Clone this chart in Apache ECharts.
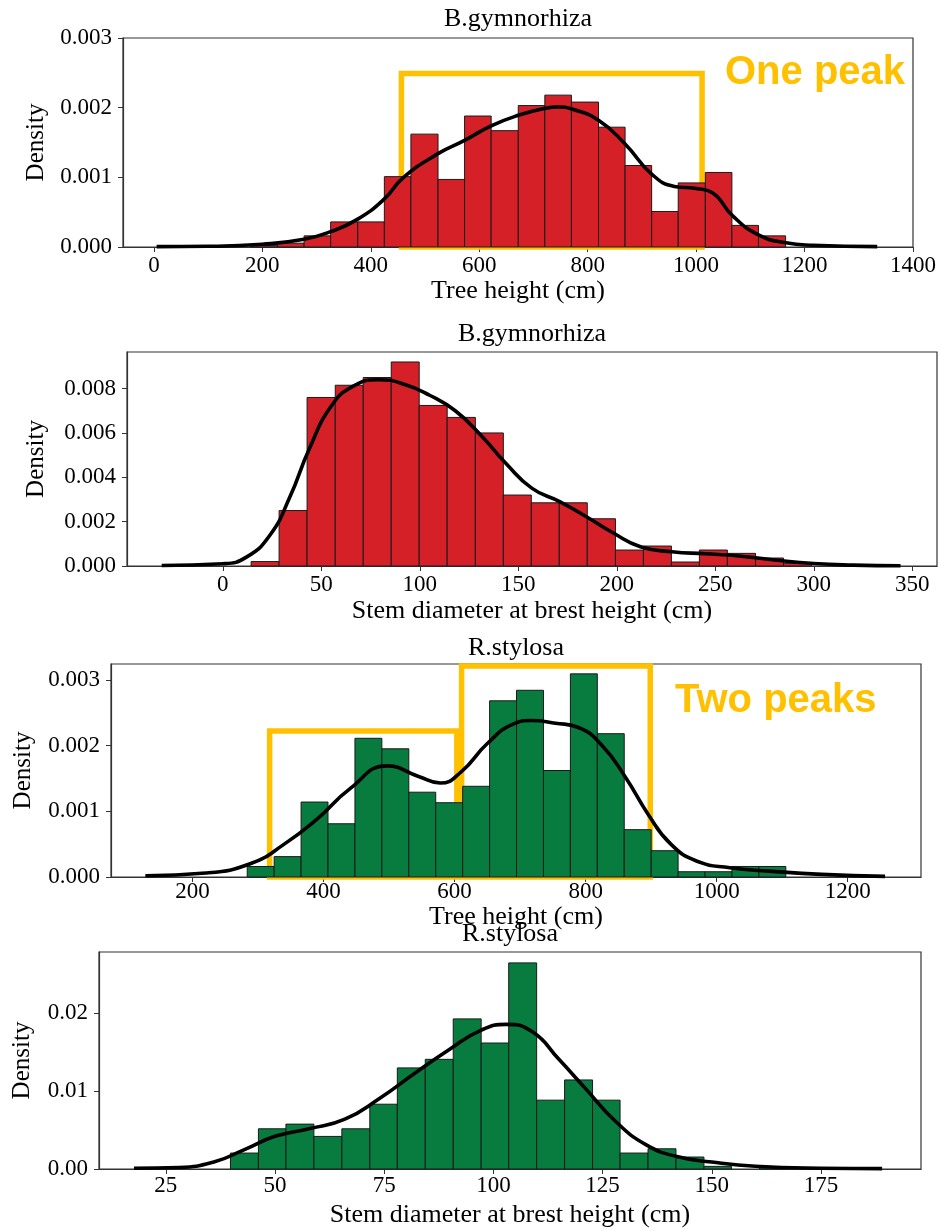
<!DOCTYPE html>
<html>
<head>
<meta charset="utf-8">
<script src="https://cdn.jsdelivr.net/npm/echarts@6/dist/echarts.min.js"></script>
<style>html,body{margin:0;padding:0;background:#fff}#c{width:940px;height:1231px}</style>
</head>
<body>
<div id="c"></div>
<script>
// ---------- DATA ----------
const titles = ['B.gymnorhiza', 'B.gymnorhiza', 'R.stylosa', 'R.stylosa'];
const xNames = ['Tree height (cm)', 'Stem diameter at brest height (cm)', 'Tree height (cm)', 'Stem diameter at brest height (cm)'];

// Panel 1: B.gymnorhiza tree height
const edges1 = [179, 228, 277, 326, 376, 425, 474, 524, 573, 622, 672, 721, 770, 820, 869, 918, 967, 1017, 1066, 1115, 1165];
const dens1 = [0.00002, 0.000055, 0.00016, 0.00036, 0.00036, 0.00101, 0.00162, 0.00097, 0.00188, 0.00167, 0.00203, 0.00218, 0.00208, 0.00172, 0.00117, 0.00051, 0.00092, 0.00107, 0.00031, 0.00016];
const kdeX1 = [5, 100, 200, 277, 326, 376, 425, 459, 524, 573, 622, 672, 721, 746, 771, 820, 869, 919, 960, 1000, 1030, 1067, 1116, 1166, 1215, 1334];
const kdeY1 = [0.000005, 0.00001, 0.00004, 0.00011, 0.00022, 0.00040, 0.00069, 0.00099, 0.00134, 0.00153, 0.00174, 0.00189, 0.00199, 0.00201, 0.00198, 0.00182, 0.00148, 0.00104, 0.00087, 0.00084, 0.00078, 0.00045, 0.00017, 0.00006, 0.000025, 0.000005];
const xTicks1 = [0, 200, 400, 600, 800, 1000, 1200, 1400];
const yTicks1 = [0, 0.001, 0.002, 0.003];

// Panel 2: B.gymnorhiza stem diameter
const edges2 = [14.4, 28.6, 42.8, 57.1, 71.3, 85.5, 99.7, 113.9, 128.2, 142.4, 156.6, 170.8, 185.0, 199.3, 213.5, 227.7, 241.9, 256.1, 270.4, 284.6, 298.8];
const dens2 = [0.0002, 0.0025, 0.0076, 0.00815, 0.0085, 0.0092, 0.00724, 0.0067, 0.0060, 0.0032, 0.00285, 0.00285, 0.00213, 0.00072, 0.0009, 0.00018, 0.00072, 0.00057, 0.00036, 0.00012];
const kdeX2 = [-31, 0, 12, 24, 34, 44, 55, 66, 79, 92, 105, 118, 131, 144, 157, 171, 185, 198, 212, 228, 245, 262, 280, 300, 320, 344];
const kdeY2 = [0.00002, 0.0001, 0.0004, 0.0014, 0.0031, 0.0053, 0.0072, 0.0081, 0.0084, 0.0082, 0.0077, 0.0070, 0.0059, 0.0046, 0.0035, 0.0029, 0.0022, 0.0015, 0.00087, 0.00064, 0.00055, 0.00045, 0.00027, 0.00011, 0.00004, 0.00001];
const xTicks2 = [0, 50, 100, 150, 200, 250, 300, 350];
const yTicks2 = [0, 0.002, 0.004, 0.006, 0.008];

// Panel 3: R.stylosa tree height
const edges3 = [283.5, 324.6, 365.7, 406.8, 447.9, 489.0, 530.1, 571.2, 612.3, 653.4, 694.5, 735.6, 776.7, 817.8, 858.9, 900.0, 941.1, 982.2, 1023.3, 1064.4, 1105.5];
const dens3 = [0.00016, 0.00031, 0.00114, 0.00081, 0.00211, 0.00195, 0.00129, 0.00113, 0.00138, 0.00268, 0.00284, 0.00162, 0.00309, 0.00218, 0.00072, 0.00040, 0.00008, 0.00008, 0.00016, 0.00016];
const kdeX3 = [128, 220, 290, 340, 390, 440, 497, 545, 578, 610, 650, 690, 717, 754, 790, 825, 860, 895, 930, 970, 1020, 1080, 1160, 1257];
const kdeY3 = [0.00002, 0.00006, 0.00021, 0.00050, 0.00088, 0.00134, 0.00169, 0.00153, 0.00143, 0.00160, 0.00203, 0.00233, 0.00238, 0.00234, 0.00227, 0.00200, 0.00153, 0.00096, 0.00050, 0.00024, 0.00014, 0.00009, 0.00004, 0.00001];
const xTicks3 = [200, 400, 600, 800, 1000, 1200];
const yTicks3 = [0, 0.001, 0.002, 0.003];

// Panel 4: R.stylosa stem diameter
const edges4 = [39.8, 46.2, 52.5, 58.9, 65.3, 71.7, 78.0, 84.4, 90.8, 97.2, 103.5, 109.9, 116.3, 122.7, 129.0, 135.4, 141.8, 148.2, 154.5, 160.9, 167.3];
const dens4 = [0.00205, 0.00517, 0.00577, 0.00419, 0.00517, 0.00833, 0.0130, 0.0141, 0.0193, 0.0162, 0.0265, 0.00885, 0.01145, 0.00885, 0.00205, 0.0026, 0.00154, 0.00034, 0, 0.0003];
const kdeX4 = [17.7, 28, 36, 43, 50, 58, 66, 74, 82, 90, 97, 103, 109, 115, 121, 128, 135, 142, 150, 160, 175, 189];
const kdeY4 = [0.0001, 0.0002, 0.0009, 0.0025, 0.0042, 0.0052, 0.0064, 0.0091, 0.0123, 0.0154, 0.0178, 0.0186, 0.0176, 0.0141, 0.0104, 0.0061, 0.0031, 0.0016, 0.0009, 0.00035, 0.0001, 0.00005];
const xTicks4 = [25, 50, 75, 100, 125, 150, 175];
const yTicks4 = [0, 0.01, 0.02];

// annotation boxes (data coordinates): [x1, y1, x2, y2]
const box1 = [456.5, -0.00004, 1011, 0.00249];
const box3a = [317.7, 0, 603.4, 0.00222];
const box3b = [610.7, 0, 898.6, 0.00321];
const notes = ['One peak', 'Two peaks'];

// ---------- LAYOUT / STYLE ----------
const SERIF = '"Liberation Serif", "Times New Roman", serif';
const SANS = '"Liberation Sans", Arial, sans-serif';
const RED = '#D62028';
const GREEN = '#077C3E';
const ORANGE = '#FFC000';
const AX = '#333';

const grids = [
  {left: 123, top: 38, width: 790, height: 209},
  {left: 127, top: 352, width: 810, height: 214},
  {left: 111, top: 664, width: 810, height: 213},
  {left: 99, top: 952, width: 822, height: 217}
];
const xRanges = [[-57, 1400], [-48.6, 362.5], [75.6, 1311.8], [9.7, 197.9]];
const yMax = [0.003, 0.00965, 0.00324, 0.0279];
const xTicks = [xTicks1, xTicks2, xTicks3, xTicks4];
const yTicks = [yTicks1, yTicks2, yTicks3, yTicks4];
const yDec = [3, 3, 3, 2];
const xLabelMargin = [7, 7, 3, 5];
const xNameGap = [30, 32, 20, 33];
const yNameGap = [74, 78, 75, 64];
const titleY = [19.5, 334.2, 647.9, 934.2];

const edges = [edges1, edges2, edges3, edges4];
const dens = [dens1, dens2, dens3, dens4];
const kdeX = [kdeX1, kdeX2, kdeX3, kdeX4];
const kdeY = [kdeY1, kdeY2, kdeY3, kdeY4];
const colors = [RED, RED, GREEN, GREEN];
const boxes = [[box1], [], [box3a, box3b], []];

const chart = echarts.init(document.getElementById('c'), null, {renderer: 'canvas'});

const option = {
  animation: false,
  backgroundColor: '#fff',
  grid: grids.map(g => Object.assign({show: true, borderColor: AX, borderWidth: 1.2, backgroundColor: 'transparent', containLabel: false}, g)),
  xAxis: grids.map((g, i) => ({
    type: 'value', gridIndex: i, min: xRanges[i][0], max: xRanges[i][1],
    name: xNames[i], nameLocation: 'middle', nameGap: xNameGap[i],
    nameTextStyle: {fontFamily: SERIF, fontSize: 26, color: '#000'},
    axisLine: {show: true, onZero: false, lineStyle: {color: AX, width: 1.2}},
    axisTick: {show: true, length: 5, inside: false, customValues: xTicks[i], lineStyle: {color: AX, width: 1}},
    axisLabel: {show: true, customValues: xTicks[i], margin: xLabelMargin[i], fontFamily: SERIF, fontSize: 23, color: '#000',
      formatter: v => String(v), showMinLabel: true, showMaxLabel: true},
    splitLine: {show: false}
  })),
  yAxis: grids.map((g, i) => ({
    type: 'value', gridIndex: i, min: 0, max: yMax[i],
    name: 'Density', nameLocation: 'middle', nameGap: yNameGap[i], nameRotate: 90,
    nameTextStyle: {fontFamily: SERIF, fontSize: 25, color: '#000'},
    axisLine: {show: true, onZero: false, lineStyle: {color: AX, width: 1.2}},
    axisTick: {show: true, length: 5, inside: false, customValues: yTicks[i], lineStyle: {color: AX, width: 1}},
    axisLabel: {show: true, customValues: yTicks[i], margin: 11, fontFamily: SERIF, fontSize: 23, color: '#000',
      formatter: v => Number(v).toFixed(yDec[i]), showMinLabel: true, showMaxLabel: true},
    splitLine: {show: false}
  })),
  series: [],
  graphic: []
};

for (let i = 0; i < 4; i++) {
  const e = edges[i], d = dens[i], col = colors[i];
  const histData = d.map((v, k) => [e[k], e[k + 1], v]);
  option.series.push({
    type: 'custom', xAxisIndex: i, yAxisIndex: i, z: 2,
    data: histData,
    encode: {x: [0, 1], y: 2},
    renderItem: function (params, api) {
      const h = api.value(2);
      if (!(h > 0)) return null;
      const p0 = api.coord([api.value(0), h]);
      const p1 = api.coord([api.value(1), 0]);
      return {
        type: 'rect',
        shape: {x: p0[0], y: p0[1], width: p1[0] - p0[0], height: p1[1] - p0[1]},
        style: {fill: col, stroke: '#1a1a1a', lineWidth: 1}
      };
    }
  });
  const line = {
    type: 'line', xAxisIndex: i, yAxisIndex: i, z: 4,
    data: kdeX[i].map((x, k) => [x, kdeY[i][k]]),
    smooth: 0.5, symbol: 'none', clip: false,
    lineStyle: {color: '#000', width: 3.6}
  };
  if (boxes[i].length) {
    line.markArea = {
      silent: true,
      itemStyle: {color: 'rgba(0,0,0,0)', borderColor: ORANGE, borderWidth: 5.5},
      label: {show: false},
      data: boxes[i].map(b => [{coord: [b[0], b[1]]}, {coord: [b[2], b[3]]}])
    };
  }
  option.series.push(line);

  option.graphic.push({
    type: 'text', x: grids[i].left + grids[i].width / 2, y: titleY[i], z: 10,
    style: {text: titles[i], fontFamily: SERIF, fontSize: 26, fill: '#000', align: 'center', verticalAlign: 'middle'}
  });
}

option.graphic.push({
  type: 'text', x: 725, y: 72.7, z: 10,
  style: {text: notes[0], fontFamily: SANS, fontWeight: 'bold', fontSize: 40, fill: ORANGE, align: 'left', verticalAlign: 'middle'}
});
option.graphic.push({
  type: 'text', x: 675, y: 701.4, z: 10,
  style: {text: notes[1], fontFamily: SANS, fontWeight: 'bold', fontSize: 40, fill: ORANGE, align: 'left', verticalAlign: 'middle'}
});

chart.setOption(option);
</script>
</body>
</html>
